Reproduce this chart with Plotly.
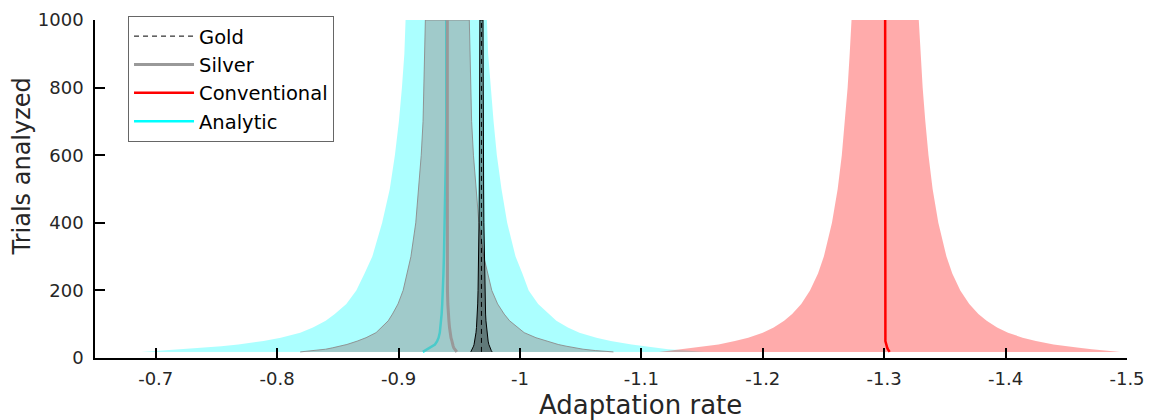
import plotly.graph_objects as go

# Number of trials included in each estimate
trials = [18, 22, 26, 30, 35, 40, 50, 60, 75, 90, 110, 130, 160, 200,
          250, 300, 400, 500, 600, 700, 800, 900, 1000]

# Mean adaptation rate per method
gold_mean = [-0.9683] * 23
silver_mean = [-0.948, -0.947, -0.946, -0.9455, -0.945, -0.9445, -0.944, -0.9432,
               -0.9425, -0.942, -0.9415, -0.941, -0.9406, -0.9403, -0.9402, -0.9402,
               -0.9402, -0.9402, -0.9402, -0.9402, -0.9402, -0.9402, -0.9402]
conventional_mean = [-1.3045, -1.3035, -1.303, -1.3025, -1.302, -1.3015, -1.301, -1.301,
                     -1.301, -1.301, -1.301, -1.3009, -1.3009, -1.3008, -1.3008, -1.3008,
                     -1.3008, -1.3008, -1.3008, -1.3008, -1.3008, -1.3008, -1.3008]
analytic_mean = [-0.920, -0.922, -0.924, -0.926, -0.928, -0.930, -0.9318, -0.933,
                 -0.934, -0.9345, -0.935, -0.9355, -0.936, -0.9362, -0.937, -0.9374,
                 -0.938, -0.9388, -0.939, -0.9393, -0.9393, -0.9393, -0.9393]

# Half-width of the spread around each mean
gold_half = [0.0088, 0.0081, 0.0075, 0.0070, 0.0065, 0.0061, 0.0055, 0.0050, 0.0045,
             0.0041, 0.0037, 0.0034, 0.0031, 0.0028, 0.0025, 0.0023, 0.0020, 0.0018,
             0.0016, 0.0015, 0.0014, 0.0013, 0.0013]
silver_half = [0.129, 0.115, 0.106, 0.100, 0.093, 0.087, 0.078, 0.070, 0.061, 0.056,
               0.050, 0.046, 0.041, 0.0365, 0.033, 0.030, 0.026, 0.0235, 0.0215,
               0.0200, 0.0192, 0.0186, 0.0181]
conventional_half = [0.190, 0.180, 0.168, 0.158, 0.147, 0.138, 0.124, 0.113, 0.101,
                     0.092, 0.0834, 0.0767, 0.0692, 0.0619, 0.0553, 0.0505, 0.0438,
                     0.0391, 0.0357, 0.0331, 0.0309, 0.0292, 0.0277]
analytic_half = [0.232, 0.215, 0.198, 0.189, 0.174, 0.162, 0.143, 0.130, 0.115, 0.105,
                 0.095, 0.088, 0.079, 0.071, 0.065, 0.059, 0.0515, 0.046, 0.0420,
                 0.0390, 0.0365, 0.0345, 0.0335]

x_tickvals = [-0.7, -0.8, -0.9, -1.0, -1.1, -1.2, -1.3, -1.4, -1.5]
x_ticktext = ["-0.7", "-0.8", "-0.9", "-1", "-1.1", "-1.2", "-1.3", "-1.4", "-1.5"]
y_tickvals = [0, 200, 400, 600, 800, 1000]


def band(mean, half, fill, edge, edge_width):
    lower = [m + h for m, h in zip(mean, half)]
    upper = [m - h for m, h in zip(mean, half)]
    return go.Scatter(
        x=lower + upper[::-1],
        y=trials + trials[::-1],
        fill="toself",
        fillcolor=fill,
        mode="lines",
        line=dict(color=edge, width=edge_width),
        showlegend=False,
        hoverinfo="skip",
    )


def mean_line(mean, name, color, width, dash, rank):
    return go.Scatter(
        x=mean, y=trials, mode="lines", name=name,
        line=dict(color=color, width=width, dash=dash),
        legendrank=rank,
    )


fig = go.Figure()
fig.add_trace(band(analytic_mean, analytic_half, "rgba(0,255,255,0.33)", "rgba(0,255,255,0)", 0))
fig.add_trace(mean_line(analytic_mean, "Analytic", "#00FFFF", 2.5, "solid", 4))
fig.add_trace(band(silver_mean, silver_half, "rgba(150,150,150,0.5)", "rgba(140,140,140,0.9)", 1))
fig.add_trace(mean_line(silver_mean, "Silver", "#999999", 3, "solid", 2))
fig.add_trace(band(gold_mean, gold_half, "rgba(0,0,0,0.4)", "#000000", 1))
fig.add_trace(mean_line(gold_mean, "Gold", "#000000", 1, "5px,4px", 1))
fig.add_trace(band(conventional_mean, conventional_half, "rgba(255,0,0,0.33)", "rgba(255,0,0,0)", 0))
fig.add_trace(mean_line(conventional_mean, "Conventional", "#FF0000", 2.5, "solid", 3))

tick_font = dict(family="DejaVu Sans", size=18, color="#262626")

fig.update_layout(
    width=1165, height=420,
    margin=dict(l=95, r=38, t=20, b=62),
    paper_bgcolor="white", plot_bgcolor="white",
    font=dict(family="DejaVu Sans", color="#262626"),
    xaxis=dict(
        range=[-0.65, -1.5], tickvals=x_tickvals, ticktext=x_ticktext,
        ticks="inside", ticklen=10, tickwidth=2, tickcolor="#000000",
        showline=True, linecolor="#000000", linewidth=1.5,
        showgrid=False, zeroline=False, tickfont=tick_font,
        ticklabelstandoff=4, automargin=False,
    ),
    yaxis=dict(
        range=[0, 1000], tickvals=y_tickvals,
        ticks="inside", ticklen=10, tickwidth=1.5, tickcolor="#000000",
        showline=True, linecolor="#000000", linewidth=1.5,
        showgrid=False, zeroline=False, tickfont=tick_font,
        ticklabelstandoff=6, automargin=False,
    ),
    legend=dict(
        x=0.032, y=1.012, xanchor="left", yanchor="top",
        bgcolor="white", bordercolor="#666666", borderwidth=1,
        font=dict(family="DejaVu Sans", size=19.5, color="#000000"),
        itemwidth=60, tracegroupgap=0,
    ),
    annotations=[
        dict(text="Adaptation rate", xref="paper", yref="paper",
             x=0.529, y=-0.139, xanchor="center", yanchor="middle",
             showarrow=False, font=dict(size=26, color="#262626")),
        dict(text="Trials analyzed", xref="paper", yref="paper",
             x=-0.0703, y=0.568, xanchor="center", yanchor="middle",
             textangle=-90, showarrow=False, font=dict(size=24, color="#262626")),
    ],
)

fig.write_html("out.html")
